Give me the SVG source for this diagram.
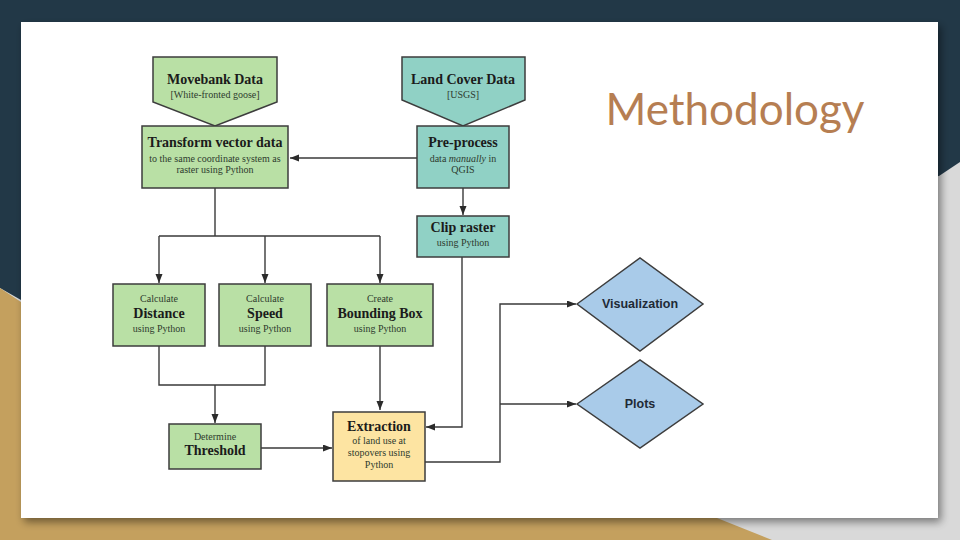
<svg xmlns="http://www.w3.org/2000/svg" width="960" height="540" viewBox="0 0 960 540">
  <defs>
    <filter id="cardShadow" x="-5%" y="-5%" width="112%" height="115%">
      <feGaussianBlur in="SourceAlpha" stdDeviation="4"/>
      <feOffset dx="3" dy="4" result="b"/>
      <feComponentTransfer><feFuncA type="linear" slope="0.45"/></feComponentTransfer>
      <feMerge><feMergeNode/><feMergeNode in="SourceGraphic"/></feMerge>
    </filter>
    <marker id="arrow" markerUnits="userSpaceOnUse" markerWidth="10" markerHeight="8" refX="9" refY="3.5" orient="auto">
      <path d="M0,0 L9,3.5 L0,7 z" fill="#2b2b2b"/>
    </marker>
  </defs>
  <style>
    .box { stroke: #3d3d3d; stroke-width: 1.5; }
    .green { fill: #b9e0a5; }
    .teal { fill: #90d1c5; }
    .blue { fill: #a9cbe9; }
    .yellow { fill: #fde4a2; }
    .title { font-family: "Liberation Serif", "Times New Roman", serif; font-weight: bold; font-size: 14px; fill: #1b1b1b; text-anchor: middle; }
    .sub { font-family: "Liberation Serif", "Times New Roman", serif; font-size: 10px; fill: #2e3b2e; text-anchor: middle; }
    .dia { font-family: "Liberation Sans", Arial, sans-serif; font-weight: bold; font-size: 12.5px; fill: #1f2a36; text-anchor: middle; }
    .conn { fill: none; stroke: #3a3a3a; stroke-width: 1.4; }
  </style>

  <!-- slide background -->
  <rect x="0" y="0" width="960" height="540" fill="#d9d9d9"/>
  <polygon points="0,0 960,0 960,162 939,176 21,300 0,288" fill="#223847"/>
  <polygon points="0,288 21,302 717,518 772,540 0,540" fill="#c4a05e"/>
  <rect x="21" y="22" width="917" height="496" fill="#ffffff" filter="url(#cardShadow)"/>

  <text x="735" y="125" font-family="Lato, 'Open Sans', sans-serif" font-size="44" fill="#b67e52" text-anchor="middle">Methodology</text>

  <!-- connectors -->
  <g id="connectors">
    <path class="conn" d="M417,158 H290" marker-end="url(#arrow)"/>
    <path class="conn" d="M463,188 V215" marker-end="url(#arrow)"/>
    <path class="conn" d="M215,188 V236 M159,236 H380"/>
    <path class="conn" d="M159,236 V283" marker-end="url(#arrow)"/>
    <path class="conn" d="M265,236 V283" marker-end="url(#arrow)"/>
    <path class="conn" d="M380,236 V283" marker-end="url(#arrow)"/>
    <path class="conn" d="M159,346 V385 H265 V346"/>
    <path class="conn" d="M215,385 V423" marker-end="url(#arrow)"/>
    <path class="conn" d="M380,346 V410" marker-end="url(#arrow)"/>
    <path class="conn" d="M261,448 H332" marker-end="url(#arrow)"/>
    <path class="conn" d="M462,257 V427 H426" marker-end="url(#arrow)"/>
    <path class="conn" d="M425,462 H500 V304 H576" marker-end="url(#arrow)"/>
    <path class="conn" d="M500,404 H576" marker-end="url(#arrow)"/>
  </g>

  <g id="movebank">
    <polygon class="box green" points="153,57 277,57 277,102 215,126 153,102"/>
    <text class="title" x="215" y="84">Movebank Data</text>
    <text class="sub" x="215" y="98">[White-fronted goose]</text>
  </g>

  <g id="landcover">
    <polygon class="box teal" points="402,57 525,57 525,100 463,126 402,100"/>
    <text class="title" x="463" y="84">Land Cover Data</text>
    <text class="sub" x="463" y="98">[USGS]</text>
  </g>

  <g id="transform">
    <rect class="box green" x="142" y="126" width="146" height="62"/>
    <text class="title" x="215" y="147">Transform vector data</text>
    <text class="sub" x="215" y="162">to the same coordinate system as</text>
    <text class="sub" x="215" y="173">raster using Python</text>
  </g>

  <g id="preprocess">
    <rect class="box teal" x="417" y="126" width="92" height="62"/>
    <text class="title" x="463" y="147">Pre-process</text>
    <text class="sub" x="463" y="162">data <tspan font-style="italic">manually</tspan> in</text>
    <text class="sub" x="463" y="173">QGIS</text>
  </g>

  <g id="clip">
    <rect class="box teal" x="417" y="216" width="92" height="41"/>
    <text class="title" x="463" y="232">Clip raster</text>
    <text class="sub" x="463" y="246">using Python</text>
  </g>

  <g id="distance">
    <rect class="box green" x="113" y="284" width="92" height="62"/>
    <text class="sub" x="159" y="302">Calculate</text>
    <text class="title" x="159" y="318">Distance</text>
    <text class="sub" x="159" y="332">using Python</text>
  </g>

  <g id="speed">
    <rect class="box green" x="219" y="284" width="92" height="62"/>
    <text class="sub" x="265" y="302">Calculate</text>
    <text class="title" x="265" y="318">Speed</text>
    <text class="sub" x="265" y="332">using Python</text>
  </g>

  <g id="bbox">
    <rect class="box green" x="327" y="284" width="106" height="62"/>
    <text class="sub" x="380" y="302">Create</text>
    <text class="title" x="380" y="318">Bounding Box</text>
    <text class="sub" x="380" y="332">using Python</text>
  </g>

  <g id="threshold">
    <rect class="box green" x="169" y="424" width="92" height="45"/>
    <text class="sub" x="215" y="440">Determine</text>
    <text class="title" x="215" y="455">Threshold</text>
  </g>

  <g id="extraction">
    <rect class="box yellow" x="333" y="412" width="92" height="69"/>
    <text class="title" x="379" y="431">Extraction</text>
    <text class="sub" x="379" y="444">of land use at</text>
    <text class="sub" x="379" y="456">stopovers using</text>
    <text class="sub" x="379" y="468">Python</text>
  </g>

  <g id="visualization">
    <polygon class="box blue" points="577,304 640,258 703,304 640,351"/>
    <text class="dia" x="640" y="308">Visualization</text>
  </g>

  <g id="plots">
    <polygon class="box blue" points="577,404 640,360 703,404 640,448"/>
    <text class="dia" x="640" y="408">Plots</text>
  </g>
</svg>
